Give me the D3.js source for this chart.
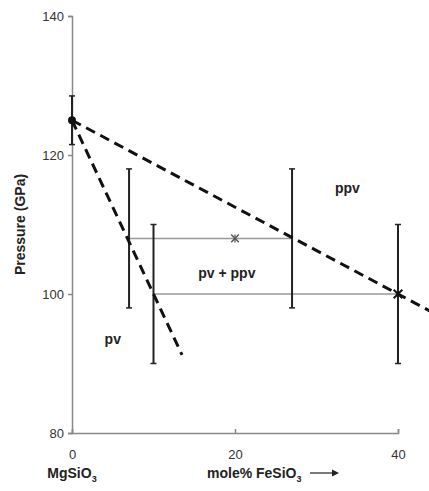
<!DOCTYPE html>
<html>
<head>
<meta charset="utf-8">
<script src="https://cdn.jsdelivr.net/npm/d3@7"></script>
<style>
  body { margin: 0; background: #fff; }
  svg { font-family: "Liberation Sans", Arial, sans-serif; }
  .tick text { font-size: 13px; fill: #333; }
  .lbl { font-size: 14px; font-weight: bold; fill: #222; }
</style>
</head>
<body>
<div id="chart"></div>
<script>
// measured compositions (mole% FeSiO3), pressures (GPa) and error bars
const xVals = [0, 7, 10, 27, 40];
const yVals = [125, 108, 100, 108, 100];
const yErrs = [3.5, 10, 10, 10, 10];

// other markers
const dotPoint = [0, 125];
const starPoint = [20, 108];
const crossPoint = [40, 100];

// grey tie lines between coexisting phases
const tieLines = [
  [[7, 108], [27, 108]],
  [[10, 100], [40, 100]]
];

// dashed phase boundaries
const pvBoundary = [[0, 125], [13.5, 91.25]];
const ppvBoundary = [[0, 125], [44, 97.5]];

// region labels
const regionLabels = [
  {text: "ppv", x: 33.8, y: 115.3},
  {text: "pv + ppv", x: 19, y: 103},
  {text: "pv", x: 5, y: 93.5}
];

const xTicks = [0, 20, 40];
const yTicks = [80, 100, 120, 140];

const W = 429, H = 491;
const margin = {top: 16, right: 31, bottom: 58, left: 72};

const svg = d3.select("#chart").append("svg")
    .attr("width", W)
    .attr("height", H);

const x = d3.scaleLinear().domain([0, 40]).range([margin.left, W - margin.right]);
const y = d3.scaleLinear().domain([80, 140]).range([H - margin.bottom, margin.top]);

// axes
const yAxis = svg.append("g")
    .attr("transform", `translate(${margin.left},0)`)
    .call(d3.axisLeft(y).tickValues(yTicks).tickSize(4).tickPadding(4));
const xAxis = svg.append("g")
    .attr("transform", `translate(0,${y(80)})`)
    .call(d3.axisBottom(x).tickValues(xTicks).tickSize(-4).tickPadding(14));
[xAxis, yAxis].forEach(g => {
  g.select(".domain").attr("stroke", "#888").attr("stroke-width", 1.5);
  g.selectAll(".tick line").attr("stroke", "#888").attr("stroke-width", 1.5);
});
xAxis.selectAll(".tick text").attr("dy", "0.9em");

// tie lines
const line = d3.line().x(d => x(d[0])).y(d => y(d[1]));
svg.selectAll(".tie")
  .data(tieLines)
  .join("path")
    .attr("d", line)
    .attr("fill", "none")
    .attr("stroke", "#999")
    .attr("stroke-width", 1.5);

// error bars
const capW = 3;
const eb = svg.selectAll(".eb")
  .data(xVals.map((v, i) => ({x: v, y: yVals[i], e: yErrs[i]})))
  .join("g");
eb.append("line")
    .attr("x1", d => x(d.x)).attr("x2", d => x(d.x))
    .attr("y1", d => y(d.y + d.e)).attr("y2", d => y(d.y - d.e))
    .attr("stroke", "#222").attr("stroke-width", 2);
[1, -1].forEach(s => {
  eb.append("line")
      .attr("x1", d => x(d.x) - capW).attr("x2", d => x(d.x) + capW)
      .attr("y1", d => y(d.y + s * d.e)).attr("y2", d => y(d.y + s * d.e))
      .attr("stroke", "#222").attr("stroke-width", 1.5);
});

// dashed boundaries
[pvBoundary, ppvBoundary].forEach(b => {
  svg.append("path")
      .attr("d", line(b))
      .attr("fill", "none")
      .attr("stroke", "#111")
      .attr("stroke-width", 3)
      .attr("stroke-dasharray", "10,6");
});

// markers
svg.append("circle")
    .attr("cx", x(dotPoint[0])).attr("cy", y(dotPoint[1]))
    .attr("r", 4).attr("fill", "#111");

svg.append("path")
    .attr("transform", `translate(${x(starPoint[0])},${y(starPoint[1])})`)
    .attr("d", d3.symbol(d3.symbolTimes, 40)())
    .attr("fill", "none")
    .attr("stroke", "#555")
    .attr("stroke-width", 1.5);
svg.append("line")
    .attr("x1", x(starPoint[0])).attr("x2", x(starPoint[0]))
    .attr("y1", y(starPoint[1]) - 4).attr("y2", y(starPoint[1]) + 4)
    .attr("stroke", "#555").attr("stroke-width", 1.2);

svg.append("path")
    .attr("transform", `translate(${x(crossPoint[0])},${y(crossPoint[1])})`)
    .attr("d", d3.symbol(d3.symbolTimes, 50)())
    .attr("fill", "none")
    .attr("stroke", "#111")
    .attr("stroke-width", 2);

// region labels
svg.selectAll(".region")
  .data(regionLabels)
  .join("text")
    .attr("class", "lbl")
    .attr("x", d => x(d.x))
    .attr("y", d => y(d.y))
    .attr("text-anchor", "middle")
    .attr("dy", "0.35em")
    .text(d => d.text);

// axis titles
svg.append("text")
    .attr("class", "lbl")
    .attr("transform", `translate(25,${(y(80) + y(140)) / 2}) rotate(-90)`)
    .attr("text-anchor", "middle")
    .text("Pressure (GPa)");

const mg = svg.append("text")
    .attr("class", "lbl")
    .attr("x", x(0))
    .attr("y", 478)
    .attr("text-anchor", "middle");
mg.append("tspan").text("MgSiO");
mg.append("tspan").attr("dy", 4).attr("font-size", "9px").text("3");

const fe = svg.append("text")
    .attr("class", "lbl")
    .attr("x", 207)
    .attr("y", 478);
fe.append("tspan").text("mole% FeSiO");
fe.append("tspan").attr("dy", 4).attr("font-size", "9px").text("3");

// arrow after axis title
svg.append("line")
    .attr("x1", 310).attr("x2", 332)
    .attr("y1", 473).attr("y2", 473)
    .attr("stroke", "#222").attr("stroke-width", 1.2);
svg.append("path")
    .attr("d", "M332,469.5 L339,473 L332,476.5 Z")
    .attr("fill", "#222");
</script>
</body>
</html>
